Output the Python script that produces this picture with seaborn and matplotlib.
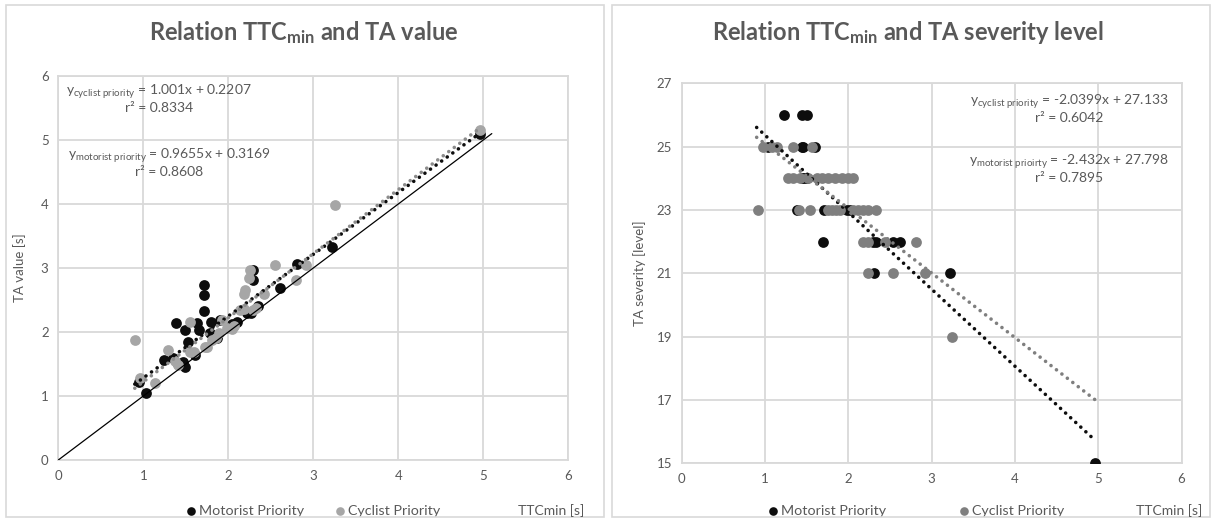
import matplotlib.pyplot as plt
import seaborn as sns
import numpy as np
from matplotlib.patches import Rectangle

# ---- left chart: TTCmin vs TA value ----
mot_ttc = [0.95, 1.03, 1.24, 1.35, 1.39, 1.41, 1.47, 1.49, 1.49, 1.53, 1.61, 1.63, 1.65,
           1.71, 1.71, 1.71, 1.78, 1.80, 1.87, 1.90, 2.04, 2.10, 2.22, 2.27, 2.29, 2.29,
           2.35, 2.61, 2.81, 3.22, 4.96]
mot_ta = [1.22, 1.04, 1.56, 1.59, 2.14, 1.50, 1.53, 1.46, 2.03, 1.85, 1.64, 2.14, 2.03,
          2.73, 2.58, 2.33, 1.98, 2.16, 1.90, 2.19, 2.12, 2.15, 2.29, 2.29, 2.97, 2.81,
          2.40, 2.68, 3.07, 3.33, 5.10]
cyc_ttc = [0.90, 0.96, 1.14, 1.29, 1.37, 1.41, 1.55, 1.55, 1.60, 1.73, 1.75, 1.81, 1.85,
           1.89, 1.93, 1.98, 2.04, 2.07, 2.14, 2.18, 2.18, 2.20, 2.24, 2.26, 2.29, 2.33,
           2.42, 2.55, 2.80, 2.92, 3.26, 4.96]
cyc_ta = [1.87, 1.28, 1.20, 1.72, 1.54, 1.48, 2.16, 1.68, 1.68, 1.77, 1.77, 1.88, 1.90,
          1.98, 2.19, 2.06, 2.04, 2.10, 2.34, 2.36, 2.60, 2.65, 2.84, 2.97, 2.34, 2.37,
          2.60, 3.05, 2.81, 3.05, 3.98, 5.15]

# trendline coefficients [slope, intercept] as shown on the chart
val_mot_fit = [0.9655, 0.3169]
val_cyc_fit = [1.001, 0.2207]
val_trend_range = [0.9, 4.96]
identity_line = [0, 5.1]

# ---- right chart: TTCmin vs TA severity level ----
sev_mot_ttc = [1.23, 1.45, 1.51,
               1.04, 1.44, 1.46, 1.60,
               1.44, 1.47, 1.50,
               1.38, 1.71, 1.98, 2.02,
               1.70, 2.30, 2.33, 2.54, 2.62,
               2.31, 3.22,
               4.96]
sev_mot_lvl = [26, 26, 26,
               25, 25, 25, 25,
               24, 24, 24,
               23, 23, 23, 23,
               22, 22, 22, 22, 22,
               21, 21,
               15]
sev_cyc_ttc = [0.97, 1.08, 1.14, 1.34, 1.56,
               1.28, 1.34, 1.42, 1.52, 1.62, 1.68, 1.76, 1.84, 1.92, 2.00, 2.06,
               0.91, 1.41, 1.54, 1.76, 1.80, 1.85, 1.90, 2.06, 2.12, 2.18, 2.24, 2.33,
               2.18, 2.24, 2.44, 2.81,
               2.24, 2.54, 2.92,
               3.25]
sev_cyc_lvl = [25, 25, 25, 25, 25,
               24, 24, 24, 24, 24, 24, 24, 24, 24, 24, 24,
               23, 23, 23, 23, 23, 23, 23, 23, 23, 23, 23, 23,
               22, 22, 22, 22,
               21, 21, 21,
               19]
sev_mot_fit = [-2.432, 27.798]
sev_cyc_fit = [-2.0399, 27.133]
sev_trend_range = [0.9, 4.96]

sns.set_style("white")
plt.rcParams["font.family"] = ["Lato", "DejaVu Sans"]
plt.rcParams["mathtext.fontset"] = "custom"
plt.rcParams["mathtext.rm"] = "Lato"
plt.rcParams["mathtext.bf"] = "Lato:bold"
plt.rcParams["mathtext.it"] = "Lato:italic"

TXT = "#595959"
GRID = "#d9d9d9"
W, H = 1212, 520
fig = plt.figure(figsize=(W / 100, H / 100), dpi=100)


def box(x0, y0, x1, y1):
    # pixel box (top-left origin) -> figure fraction
    return [x0 / W, 1 - y1 / H, (x1 - x0) / W, (y1 - y0) / H]


# panel borders
for x0, x1 in [(6, 604), (612, 1210)]:
    fig.add_artist(Rectangle((x0 / W, 3 / H), (x1 - x0) / W, 512 / H,
                             transform=fig.transFigure, fill=False,
                             edgecolor=GRID, linewidth=1.2))

ax1 = fig.add_axes(box(58.3, 76, 568.3, 460))
ax2 = fig.add_axes(box(681.7, 83.4, 1181.5, 463.4))


def trend(ax, rng, fit, color):
    xs = np.array(rng)
    ax.plot(xs, fit[0] * xs + fit[1], color=color, linewidth=2.6,
            linestyle=(0, (0.01, 1.9)), dash_capstyle="round", zorder=4)


# left chart
sns.scatterplot(x=mot_ttc, y=mot_ta, color="#0d0d0d", s=60, linewidth=0,
                label="Motorist Priority", ax=ax1, zorder=3)
sns.scatterplot(x=cyc_ttc, y=cyc_ta, color="#a6a6a6", s=60, linewidth=0,
                label="Cyclist Priority", ax=ax1, zorder=3)
ax1.plot(identity_line, identity_line, color="black", linewidth=0.9, zorder=3)
trend(ax1, val_trend_range, val_mot_fit, "#0d0d0d")
trend(ax1, val_trend_range, val_cyc_fit, "#8c8c8c")
ax1.set_xlim(0, 6)
ax1.set_ylim(0, 6)
ax1.set_xticks(range(0, 7))
ax1.set_yticks(range(0, 7))
ax1.set_ylabel("TA value [s]", fontsize=9.5, color=TXT)
ax1.yaxis.set_label_coords(-0.063, 0.5)

# right chart
sns.scatterplot(x=sev_mot_ttc, y=sev_mot_lvl, color="#0d0d0d", s=60, linewidth=0,
                label="Motorist Priority", ax=ax2, zorder=3)
sns.scatterplot(x=sev_cyc_ttc, y=sev_cyc_lvl, color="#7f7f7f", s=60, linewidth=0,
                label="Cyclist Priority", ax=ax2, zorder=3)
trend(ax2, sev_trend_range, sev_mot_fit, "#0d0d0d")
trend(ax2, sev_trend_range, sev_cyc_fit, "#7f7f7f")
ax2.set_xlim(0, 6)
ax2.set_ylim(15, 27)
ax2.set_xticks(range(0, 7))
ax2.set_yticks(range(15, 28, 2))
ax2.set_ylabel("TA severity [level]", fontsize=9.5, color=TXT)
ax2.yaxis.set_label_coords(-0.071, 0.5)

for ax, cx, gap in [(ax1, 312, 2.0), (ax2, 915, 5.0)]:
    ax.grid(True, color=GRID, linewidth=1.3)
    ax.set_axisbelow(True)
    for sp in ax.spines.values():
        sp.set_color(GRID)
        sp.set_linewidth(1.3)
    ax.tick_params(length=0, labelsize=9.5, labelcolor=TXT, pad=7)
    ax.set_xlabel("")
    ax.legend(loc="center", bbox_to_anchor=(cx / W, 1 - 511 / H),
              bbox_transform=fig.transFigure, ncol=2, frameon=False,
              fontsize=10.3, labelcolor=TXT, handletextpad=0.05,
              columnspacing=gap, markerscale=0.8, handlelength=1.0)

# axis titles at bottom right
fig.text(551 / W, 1 - 511 / H, "TTCmin [s]", ha="center", va="center", fontsize=10, color=TXT)
fig.text(1169 / W, 1 - 511 / H, "TTCmin [s]", ha="center", va="center", fontsize=10, color=TXT)

# chart titles
fig.text(304 / W, 1 - 33 / H, r"Relation TTC$_{\mathbf{min}}$ and TA value",
         ha="center", va="center", fontsize=17, fontweight="bold", color=TXT)
fig.text(908 / W, 1 - 33 / H, r"Relation TTC$_{\mathbf{min}}$ and TA severity level",
         ha="center", va="center", fontsize=17, fontweight="bold", color=TXT)

# trendline equations
eqs = [
    (159, 98, r"y$_{\mathrm{cyclist\ priority}}$ = 1.001x + 0.2207" + "\nr² = 0.8334"),
    (169, 162, r"y$_{\mathrm{motorist\ priority}}$ = 0.9655x + 0.3169" + "\nr² = 0.8608"),
    (1069, 108, r"y$_{\mathrm{cyclist\ priority}}$ = -2.0399x + 27.133" + "\nr² = 0.6042"),
    (1069, 168, r"y$_{\mathrm{motorist\ prioirty}}$ = -2.432x + 27.798" + "\nr² = 0.7895"),
]
for x, y, s in eqs:
    fig.text(x / W, 1 - y / H, s, ha="center", va="center", multialignment="center",
             fontsize=10, color=TXT, linespacing=1.1)

fig.savefig("out.png", dpi=100)
